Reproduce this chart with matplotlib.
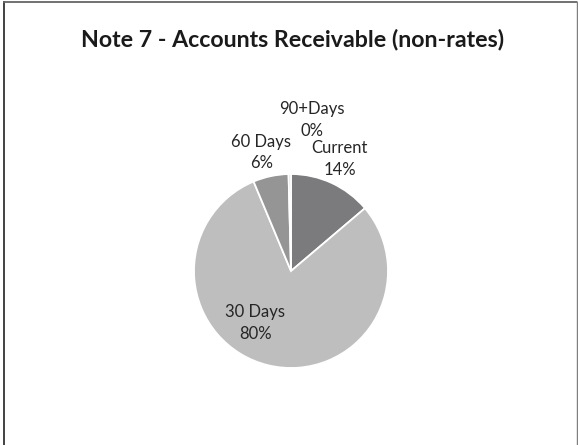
import numpy as np
import matplotlib
matplotlib.use("Agg")
import matplotlib.pyplot as plt

plt.rcParams['font.family'] = ['Lato', 'DejaVu Sans']

TITLE = "Note 7 - Accounts Receivable (non-rates)"
categories = ["Current", "30 Days", "60 Days", "90+Days"]
shares = [13.8, 79.9, 5.9, 0.4]
pct_labels = ["14%", "80%", "6%", "0%"]
colors = ["#7b7b7d", "#bebebf", "#959596", "#d6d6d6"]

# label placement: (distance in radii, angle offset in degrees from wedge mid)
LABEL_POS = [(1.26, 1.5), (0.65, -21.0), (1.26, 2.0), (1.57, -8.5)]

W, H = 578, 445
fig = plt.figure(figsize=(W / 100, H / 100), dpi=100)
ax = fig.add_axes([0, 0, 1, 1])

cx, cy, r = 291, H - 271, 97

wedges, _ = ax.pie(shares, colors=colors, startangle=90, counterclock=False,
                   center=(cx, cy), radius=r, frame=True,
                   wedgeprops=dict(edgecolor="white", linewidth=1.3))
ax.set_xlim(0, W)
ax.set_ylim(0, H)
ax.set_aspect("equal")
ax.axis("off")

for w, name, pct, (dist, off) in zip(wedges, categories, pct_labels, LABEL_POS):
    mid = np.deg2rad((w.theta1 + w.theta2) / 2 + off)
    x = cx + dist * r * np.cos(mid)
    y = cy + dist * r * np.sin(mid)
    ax.text(x, y, f"{name}\n{pct}", ha="center", va="center",
            fontsize=12, color="#262626", linespacing=1.45)

ax.text(293, H - 46, TITLE, ha="center", va="baseline",
        fontsize=16.7, fontweight="bold", color="#1a1a1a")

# chart frame (bottom edge is cropped off in the original)
ax.plot([3.5, 3.5], [0, H - 1], color="#333333", lw=1.3, solid_capstyle="butt")
ax.plot([3, W - 1], [H - 1.5, H - 1.5], color="#666666", lw=1.3, solid_capstyle="butt")
ax.plot([W - 1.2, W - 1.2], [0, H - 1], color="#7f7f7f", lw=1.0, solid_capstyle="butt")

fig.savefig("out.png", dpi=100, facecolor="white")
